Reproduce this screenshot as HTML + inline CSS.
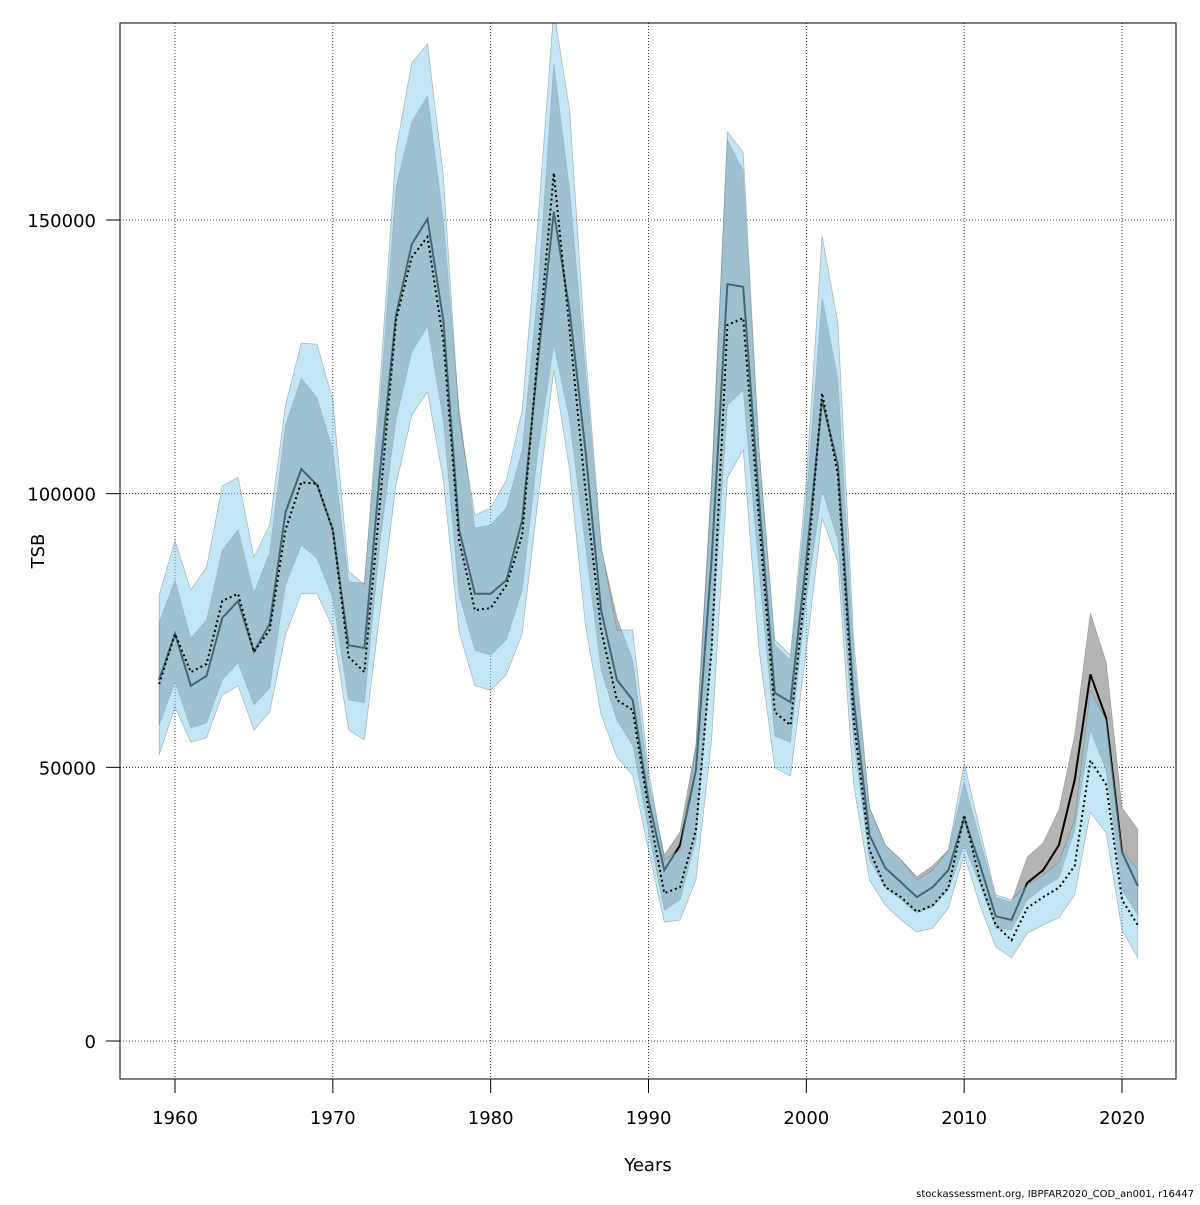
<!DOCTYPE html>
<html><head><meta charset="utf-8"><style>
body{margin:0;background:#fff;}
svg text{font-family:"DejaVu Sans","Liberation Sans",sans-serif;}
</style></head><body>
<svg id="chart" width="1200" height="1200" viewBox="0 0 1200 1200" xmlns="http://www.w3.org/2000/svg">
<defs><clipPath id="clip"><rect x="120" y="23" width="1056" height="1056"/></clipPath></defs>
<g id="grid"></g>
<g id="layers" clip-path="url(#clip)"></g>
<rect x="120" y="23" width="1056" height="1056" fill="none" stroke="#000" stroke-width="1"/>
<g id="axes"></g>
<text x="648" y="1171" font-size="18" text-anchor="middle">Years</text>
<text x="44" y="551" font-size="18" text-anchor="middle" transform="rotate(-90 44 551)">TSB</text>
<text x="1194" y="1197" font-size="10" text-anchor="end">stockassessment.org, IBPFAR2020_COD_an001, r16447</text>
</svg>
<script>
const startYear = 1959;
const xTicks = [1960,1970,1980,1990,2000,2010,2020];
const yTicks = [0,50000,100000,150000];
const lineA = [66000,74400,64900,66700,77300,80400,71100,76200,96600,104500,101600,93400,72300,71800,104300,132600,145600,150200,131700,93400,81700,81700,84200,95200,124400,151500,133500,108000,78700,66000,62300,44000,31200,35800,49500,87900,138300,137800,98800,63600,61900,87900,117100,105200,62300,37600,31600,29000,26300,28100,31200,40700,32200,22800,22100,28900,31200,35800,47700,67000,59000,34500,28300];
const lineB = [65200,74400,67400,68900,80400,81700,71100,75100,93400,102100,101800,93400,70200,67400,98800,131700,143200,146900,128000,91500,78700,79100,83300,92400,126200,158600,129900,100700,75100,62300,60500,42200,27000,28100,38500,71400,130800,132100,95200,60100,57700,84200,118400,103400,58600,34900,28100,26300,23600,24800,28000,41300,29400,21200,18400,24300,26300,28000,32000,51300,46800,25800,21200];
const bandBUpper = [81500,91400,82400,86600,101400,103000,88400,94300,116200,127500,127300,117100,85800,83400,120800,162800,178700,182200,158200,113500,96100,97400,102500,115300,150000,188400,170100,126200,90600,75100,75100,49500,33100,34900,53200,100700,166100,162400,108000,73300,70500,102500,147100,131200,73300,42600,35800,33100,29400,31200,34900,50800,38500,26700,25800,28500,30300,32700,40400,64100,58600,34900,31200];
const bandBLower = [52300,61000,54600,55400,63200,64900,56800,60100,74200,81700,81700,75500,56800,55000,78700,101600,114400,118600,102500,74700,64900,64100,66900,74400,98800,122600,104300,76000,59600,51900,48600,34900,21700,22100,29400,55000,102900,108000,71400,49900,48400,71400,95600,87500,46800,29400,24800,22100,19900,20600,24300,34000,24800,17200,15200,19700,21200,22500,26700,41800,38000,20300,15200];
const bandAUpper = [76500,84200,73600,76900,89700,93400,81800,89300,112500,121100,117500,108000,83900,83700,117100,156000,167900,172700,150000,115300,93700,94300,97400,108000,137200,178500,155500,122600,90100,77300,69600,47700,34000,38200,54100,102500,164600,159100,108000,72300,69600,98800,135900,120800,70500,42600,35800,33100,30000,32000,34900,47300,36700,26300,25400,33600,36200,42200,55900,78200,69200,42600,38700];
const bandALower = [57700,65600,57200,58100,66000,69100,61400,64500,83300,90600,88200,80900,62300,61800,91500,113500,125900,130600,113500,81500,71400,70500,73300,82400,108000,127200,113500,90600,67800,58600,54100,38500,23900,25800,36700,71400,116200,118900,86100,55700,54600,80600,100700,91500,55000,33100,28000,25800,23400,24500,27600,35800,28500,20600,20300,25800,28000,29800,38500,56800,49500,27600,23000];

const NS='http://www.w3.org/2000/svg';
function xs(yr){return 175+(yr-1960)*(1122-175)/60;}
function ys(v){return 1041-v*(1041-220)/150000;}
function mk(tag,attrs,parent){const e=document.createElementNS(NS,tag);for(const k in attrs)e.setAttribute(k,attrs[k]);parent.appendChild(e);return e;}
const grid=document.getElementById('grid'),axes=document.getElementById('axes'),layers=document.getElementById('layers');
xTicks.forEach(t=>{
  const l=mk('line',{x1:xs(t),x2:xs(t),y1:23,y2:1079,stroke:'#000','stroke-width':0.8,'stroke-dasharray':'1,2'},grid);
  
  
  const tk=mk('line',{x1:xs(t),x2:xs(t),y1:1079,y2:1093,stroke:'#000'},axes);
  
  
  const tx=mk('text',{x:xs(t),y:1124,'font-size':18,'text-anchor':'middle'},axes);tx.textContent=t;
  
  
});
yTicks.forEach(t=>{
  const l=mk('line',{x1:120,x2:1176,y1:ys(t),y2:ys(t),stroke:'#000','stroke-width':0.8,'stroke-dasharray':'1,2'},grid);
  
  
  const tk=mk('line',{x1:106,x2:120,y1:ys(t),y2:ys(t),stroke:'#000'},axes);
  
  
  const tx=mk('text',{x:96,y:ys(t)+7,'font-size':18,'text-anchor':'end'},axes);tx.textContent=t;
  
  
});
function pts(arr){return arr.map((v,i)=>xs(startYear+i).toFixed(1)+','+ys(v).toFixed(1));}
function band(up,lo,fill,name){
  const d='M'+pts(up).join('L')+'L'+pts(lo).reverse().join('L')+'Z';
  const p=mk('path',{d:d,fill:fill,stroke:'rgba(100,100,100,0.45)','stroke-width':0.7},layers);
  
  
}
band(bandAUpper,bandALower,'#b4b4b4','band-a');
const la=mk('polyline',{points:pts(lineA).join(' '),fill:'none',stroke:'#000','stroke-width':2},layers);


band(bandBUpper,bandBLower,'rgba(135,206,235,0.5)','band-b');
const lb=mk('polyline',{points:pts(lineB).join(' '),fill:'none',stroke:'#000','stroke-width':2,'stroke-dasharray':'2,3'},layers);


</script>
</body></html>
